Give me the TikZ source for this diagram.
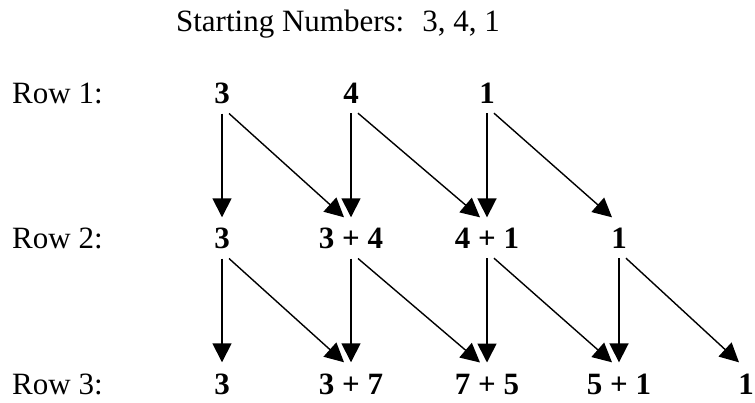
\documentclass[tikz,border=0pt]{standalone}
\usepackage{fontspec}
\setmainfont{Liberation Serif}
\usetikzlibrary{arrows.meta}

\begin{document}
\begin{tikzpicture}[x=1pt, y=-1pt,
        every node/.style={font=\fontsize{31}{36}\selectfont, inner sep=0pt, anchor=base},
        num/.style={font=\fontsize{31}{36}\selectfont\bfseries},
        down/.style={-{Triangle[length=19pt,width=19pt]}, line width=1.7pt},
        slant/.style={-{Triangle[length=19pt,width=19pt]}, line width=1.4pt}]
        \useasboundingbox (0,0) rectangle (755,403);
        \node (title) at (338,32) {Starting Numbers:~ 3, 4, 1};
        % row labels
        \node[anchor=base west] (row1) at (12,104) {Row 1:};
        \node[anchor=base west] (row2) at (12,249) {Row 2:};
        \node[anchor=base west] (row3) at (12,394) {Row 3:};
        % row 1
        \node[num] (a1) at (222,104) {3};
        \node[num] (a2) at (351,104) {4};
        \node[num] (a3) at (487,104) {1};
        % row 2
        \node[num] (b1) at (222,249) {3};
        \node[num] (b2) at (351,249) {3 + 4};
        \node[num] (b3) at (487,249) {4 + 1};
        \node[num] (b4) at (619,249) {1};
        % row 3
        \node[num] (c1) at (222,394) {3};
        \node[num] (c2) at (351,394) {3 + 7};
        \node[num] (c3) at (487,394) {7 + 5};
        \node[num] (c4) at (619,394) {5 + 1};
        \node[num] (c5) at (746,394) {1};
        % row 1 -> row 2
        \draw[down] ([yshift=-9pt]a1.south) -- ([yshift=11pt]b1.north);
        \draw[slant] ([xshift=7pt,yshift=-9pt]a1.south) -- ([xshift=-7pt,yshift=11pt]b2.north);
        \draw[down] ([yshift=-9pt]a2.south) -- ([yshift=11pt]b2.north);
        \draw[slant] ([xshift=7pt,yshift=-9pt]a2.south) -- ([xshift=-7pt,yshift=11pt]b3.north);
        \draw[down] ([yshift=-9pt]a3.south) -- ([yshift=11pt]b3.north);
        \draw[slant] ([xshift=7pt,yshift=-9pt]a3.south) -- ([xshift=-7pt,yshift=11pt]b4.north);
        % row 2 -> row 3
        \draw[down] ([yshift=-9pt]b1.south) -- ([yshift=11pt]c1.north);
        \draw[slant] ([xshift=7pt,yshift=-9pt]b1.south) -- ([xshift=-7pt,yshift=11pt]c2.north);
        \draw[down] ([yshift=-9pt]b2.south) -- ([yshift=11pt]c2.north);
        \draw[slant] ([xshift=7pt,yshift=-9pt]b2.south) -- ([xshift=-7pt,yshift=11pt]c3.north);
        \draw[down] ([yshift=-9pt]b3.south) -- ([yshift=11pt]c3.north);
        \draw[slant] ([xshift=7pt,yshift=-9pt]b3.south) -- ([xshift=-7pt,yshift=11pt]c4.north);
        \draw[down] ([yshift=-9pt]b4.south) -- ([yshift=11pt]c4.north);
        \draw[slant] ([xshift=7pt,yshift=-9pt]b4.south) -- ([xshift=-7pt,yshift=11pt]c5.north);
    \end{tikzpicture}
\end{document}
